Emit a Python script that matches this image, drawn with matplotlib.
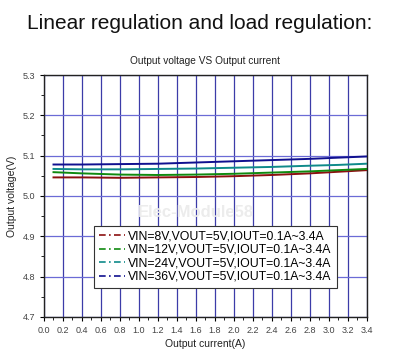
import numpy as np
import matplotlib
matplotlib.use("Agg")
from matplotlib import pyplot as plt
from matplotlib.lines import Line2D
from matplotlib.ticker import MultipleLocator

plt.rcParams['font.family'] = ['Liberation Sans', 'DejaVu Sans']

# data
current = [0.1, 0.4, 0.8, 1.2, 1.6, 2.0, 2.4, 2.8, 3.1, 3.4]
v_8v = [5.046, 5.046, 5.045, 5.046, 5.047, 5.049, 5.052, 5.056, 5.060, 5.064]
v_12v = [5.059, 5.056, 5.053, 5.052, 5.053, 5.055, 5.058, 5.061, 5.064, 5.067]
v_24v = [5.067, 5.066, 5.066, 5.067, 5.068, 5.070, 5.072, 5.075, 5.077, 5.080]
v_36v = [5.078, 5.078, 5.079, 5.080, 5.083, 5.086, 5.089, 5.092, 5.095, 5.098]
labels = ['VIN=8V,VOUT=5V,IOUT=0.1A~3.4A',
          'VIN=12V,VOUT=5V,IOUT=0.1A~3.4A',
          'VIN=24V,VOUT=5V,IOUT=0.1A~3.4A',
          'VIN=36V,VOUT=5V,IOUT=0.1A~3.4A']
colors = ['#8b1010', '#108a10', '#0f8a8a', '#10108f']

fig = plt.figure(figsize=(4.0, 3.54), dpi=100)
ax = fig.add_axes([0.11, 0.105, 0.807, 0.683])

for v, c in zip([v_8v, v_12v, v_24v, v_36v], colors):
    ax.plot(current, v, color=c, lw=1.4, zorder=3)

ax.set_xlim(0, 3.4)
ax.set_ylim(4.7, 5.3)
ax.xaxis.set_major_locator(MultipleLocator(0.2))
ax.xaxis.set_minor_locator(MultipleLocator(0.1))
ax.yaxis.set_major_locator(MultipleLocator(0.1))
ax.yaxis.set_minor_locator(MultipleLocator(0.05))
ax.xaxis.set_major_formatter(matplotlib.ticker.FormatStrFormatter('%.1f'))
ax.yaxis.set_major_formatter(matplotlib.ticker.FormatStrFormatter('%.1f'))
ax.grid(True, which='major', axis='x', color='#3c3ca8', lw=0.9)
ax.grid(True, which='major', axis='y', color='#6b6bd6', lw=0.9)
ax.tick_params(which='major', direction='out', length=3, labelsize=6.5,
               labelcolor='#444444')
ax.tick_params(which='minor', direction='out', length=2)
for s in ax.spines.values():
    s.set_color('#222222')
    s.set_linewidth(1.0)

ax.set_xlabel('Output current(A)', fontsize=7.5, color='#222222', labelpad=3)
ax.set_ylabel('Output voltage(V)', fontsize=7.5, color='#222222', labelpad=4)
ax.set_title('Output voltage VS Output current', fontsize=7.3,
             color='#222222', pad=8)

fig.text(0.5, 0.935, 'Linear regulation and load regulation:',
         ha='center', va='center', fontsize=15, color='#111111')

# faint watermark
ax.text(1.6, 4.96, 'Elec-Module58', fontsize=12, color='#ececec',
        ha='center', va='center', fontweight='bold', zorder=2)

handles = [Line2D([0], [0], color=c, lw=1.2, ls=(0, (4, 2, 1, 2)))
           for c in colors]
leg = ax.legend(handles, labels, loc='lower left',
                bbox_to_anchor=(0.155, 0.12), fontsize=8.8,
                handlelength=2.1, handletextpad=0.3, labelspacing=0.12,
                borderpad=0.4, borderaxespad=0, fancybox=False, framealpha=1,
                edgecolor='#333333')
leg.get_frame().set_linewidth(0.8)
leg.set_zorder(5)

fig.savefig('out.png', dpi=100)
